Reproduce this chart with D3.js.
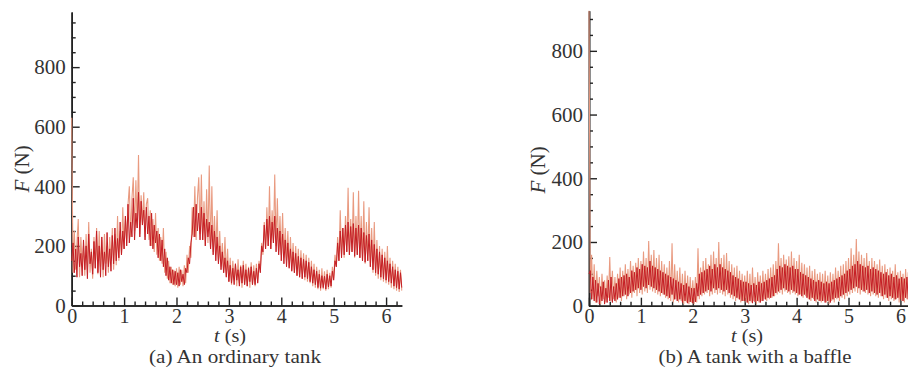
<!DOCTYPE html>
<html>
<head>
<meta charset="utf-8">
<script src="https://cdn.jsdelivr.net/npm/d3@7/dist/d3.min.js"></script>
<style>
  html, body { margin: 0; padding: 0; background: #fff; }
  svg { display: block; }
  text { font-family: "Liberation Serif", "Times New Roman", serif; fill: #333; }
</style>
</head>
<body>
<svg id="chart" width="908" height="367"></svg>
<script>
// ---------------- DATA ----------------
// sample interval of the digitised force signal (s)
const sampleStep = 0.025;

// Panel (a) An ordinary tank — spiky envelope signal (N)
const lightA = [
  630,110,250,120,210,290,95,230,130,200,100,240,120,280,110,190,90,230,125,260,
  105,250,130,220,95,240,140,200,110,230,150,260,120,240,135,300,150,250,170,330,
  190,300,210,340,400,230,360,430,250,420,260,505,240,370,270,380,230,340,360,220,
  320,200,290,180,310,170,260,150,230,140,260,110,180,90,150,75,130,70,120,65,
  125,60,130,70,120,65,135,75,170,110,200,160,330,230,400,220,360,430,240,440,
  220,350,200,390,210,470,190,400,180,300,170,320,150,250,130,210,110,230,100,190,
  80,160,70,150,85,140,65,155,75,135,60,150,70,140,65,130,60,145,70,135,
  65,140,80,150,120,210,170,280,190,330,200,400,190,320,210,440,200,360,180,300,
  170,310,160,260,150,250,130,230,120,210,110,200,100,190,95,185,90,175,85,170,
  80,160,75,150,65,140,60,130,55,120,50,125,55,115,50,120,55,110,60,130,
  90,170,130,230,150,320,170,260,160,300,180,395,170,290,180,380,160,300,170,385,
  160,300,150,350,140,280,150,330,130,260,110,280,100,220,90,200,85,190,80,180,
  75,200,70,160,60,150,55,140,50,130,45,120,50
];
// Panel (a) core signal (N)
const darkA = [
  150,210,110,190,95,230,130,175,100,220,120,200,90,240,140,180,105,215,125,250,
  110,200,95,230,120,180,100,245,130,190,115,235,140,260,150,225,160,280,170,250,
  190,300,200,340,210,280,230,360,220,310,260,380,230,350,270,320,220,330,240,300,
  200,310,190,270,210,250,160,240,150,220,130,190,100,160,85,130,75,120,70,115,
  70,110,65,120,80,105,70,125,110,160,140,210,240,330,230,340,250,310,220,330,
  220,310,200,290,230,280,190,270,170,250,150,230,140,200,120,180,110,160,95,150,
  80,135,75,125,70,140,85,120,65,130,75,135,70,120,65,125,80,130,70,115,
  70,125,75,140,110,200,180,270,190,290,200,300,190,280,210,300,180,260,170,250,
  150,240,140,220,130,210,125,190,115,180,110,175,100,165,95,160,90,155,95,150,
  90,145,80,130,75,120,70,115,60,105,58,100,60,98,55,105,62,100,65,115,
  85,150,130,210,150,250,160,260,170,270,180,280,170,265,180,275,165,260,170,270,
  160,260,150,245,145,235,150,240,130,220,120,205,110,190,105,180,95,170,90,160,
  85,150,80,140,75,130,65,120,60,115,55,110,60
];

// Panel (b) A tank with a baffle — spiky envelope signal (N)
const lightB = [
  950,40,160,20,130,10,110,30,90,5,100,20,80,10,95,25,153,15,110,20,
  90,10,100,25,120,15,110,30,130,20,115,35,140,25,125,40,135,30,150,40,
  140,35,170,45,150,40,203,50,160,45,175,40,150,35,160,30,140,35,130,25,
  120,20,140,15,196,10,130,20,110,10,120,15,100,5,110,10,95,5,90,10,
  80,5,90,10,180,20,120,30,140,35,150,40,130,30,160,35,170,40,150,35,
  200,40,150,35,160,30,165,35,140,25,130,20,120,15,125,20,110,10,100,15,
  95,10,110,5,100,10,120,15,90,5,105,10,95,15,110,20,100,15,115,20,
  120,25,130,30,140,35,196,40,150,35,160,45,145,40,155,35,170,40,150,35,
  140,30,160,35,135,25,130,30,120,20,125,15,110,20,115,10,100,15,105,10,
  100,15,110,10,95,5,105,15,100,10,120,20,110,15,125,25,130,20,140,30,
  150,35,180,40,160,45,209,40,170,35,160,45,150,40,165,35,140,30,150,35,
  140,30,130,25,145,30,125,20,130,25,115,15,120,20,110,15,130,20,105,10,
  110,15,100,10,115,20,105,15,95,10,100,15,90
];
// Panel (b) core signal (N)
const darkB = [
  100,110,20,90,15,80,10,70,5,60,15,75,5,55,10,80,15,90,10,60,
  15,70,20,85,25,90,30,95,35,100,30,90,40,110,45,105,50,120,55,115,
  50,130,60,125,55,120,65,140,60,125,55,120,50,115,45,110,40,105,35,100,
  30,95,25,90,35,85,20,80,15,75,20,70,10,65,15,70,8,60,12,55,
  8,55,12,70,30,100,35,105,40,110,45,115,50,125,45,115,55,130,50,120,
  55,130,50,120,45,115,50,110,40,105,35,95,30,90,25,85,20,80,15,75,
  15,75,10,70,15,65,8,70,12,65,15,75,10,70,15,75,20,80,25,85,
  25,90,30,95,40,115,45,125,50,120,55,130,50,125,45,120,50,125,45,115,
  40,115,35,105,30,100,35,95,25,90,20,85,25,80,15,75,20,80,15,75,
  15,70,10,75,15,70,10,75,20,80,25,85,25,90,30,95,35,100,40,110,
  45,115,50,125,55,130,60,140,55,130,50,125,45,120,50,125,40,115,45,120,
  40,115,35,110,40,105,30,100,35,105,25,95,30,100,25,90,20,95,25,85,
  20,90,15,85,25,90,20,85,15,80,20,85,15
];

// tick labels
const xTickLabels = [0, 1, 2, 3, 4, 5, 6];
const yTickLabels = [0, 200, 400, 600, 800];
const captions = ["(a) An ordinary tank", "(b) A tank with a baffle"];

// ---------------- LAYOUT ----------------
const svg = d3.select("#chart");
const panels = [
  { light: lightA, dark: darkA, caption: captions[0], id: "a",
    xl: 71.7, xr: 401.8, yb: 305.5, yt: 12, xMax: 6.3, yMax: 985,
    yMinorMax: 950, xMinorMax: 6.2,
    yLabelX: 29, yLabelY: 169, tLabelX: 230, capX: 235, capW: 172 },
  { light: lightB, dark: darkB, caption: captions[1], id: "b",
    xl: 589, xr: 916, yb: 305.7, yt: 10.7, xMax: 6.3, yMax: 926,
    yMinorMax: 900, xMinorMax: 6.2,
    yLabelX: 545, yLabelY: 170, tLabelX: 747, capX: 755, capW: 193 }
];

const yTickSize = 21;
const xTickSize = 20;
const tTitleSize = 18;
const captionSize = 19;

panels.forEach(p => {
  const x = d3.scaleLinear().domain([0, p.xMax]).range([p.xl, p.xr]);
  const y = d3.scaleLinear().domain([0, p.yMax]).range([p.yb, p.yt]);
  const g = svg.append("g");

  // minor ticks
  const yMinor = d3.range(0, p.yMinorMax + 1, 50).filter(v => v % 200 !== 0);
  const xMinor = d3.range(0, Math.round(p.xMinorMax * 5) + 1).map(k => k / 5).filter(v => Math.abs(v - Math.round(v)) > 1e-6);

  const yMinorAxis = d3.axisLeft(y).tickValues(yMinor).tickSize(-4).tickSizeOuter(0).tickFormat("");
  const xMinorAxis = d3.axisBottom(x).tickValues(xMinor).tickSize(-4).tickSizeOuter(0).tickFormat("");
  g.append("g").attr("transform", `translate(${p.xl},0)`).call(yMinorAxis);
  g.append("g").attr("transform", `translate(0,${p.yb})`).call(xMinorAxis);

  const yAxis = d3.axisLeft(y).tickValues(yTickLabels).tickSize(-8).tickSizeOuter(0).tickPadding(6).tickFormat(d3.format("d"));
  const xAxis = d3.axisBottom(x).tickValues(xTickLabels).tickSize(-8).tickSizeOuter(0).tickPadding(5).tickFormat(d3.format("d"));
  const gy = g.append("g").attr("transform", `translate(${p.xl},0)`).call(yAxis);
  const gx = g.append("g").attr("transform", `translate(0,${p.yb})`).call(xAxis);

  g.selectAll(".domain").attr("stroke", "#222").attr("stroke-width", 1.6);
  g.selectAll(".tick line").attr("stroke", "#222").attr("stroke-width", 1.4);
  g.selectAll(".tick text").attr("font-family", "Liberation Serif, serif").attr("fill", "#333");
  gy.selectAll(".tick text").attr("font-size", yTickSize);
  gx.selectAll(".tick text").attr("font-size", xTickSize).attr("dy", "0").attr("y", 17);

  // clip to plot area
  const clipId = "clip-" + p.id;
  svg.append("clipPath").attr("id", clipId).append("rect")
    .attr("x", p.xl - 1).attr("y", p.yt).attr("width", p.xr - p.xl + 2).attr("height", p.yb - p.yt);

  const line = d3.line()
    .x((d, i) => x(i * sampleStep))
    .y(d => y(d));

  const plot = g.append("g").attr("clip-path", `url(#${clipId})`);
  plot.append("path").datum(p.light)
    .attr("d", line).attr("fill", "none")
    .attr("stroke", "#e99a80").attr("stroke-width", 1.1);
  plot.append("path").datum(p.dark)
    .attr("d", line).attr("fill", "none")
    .attr("stroke", "#c41e24").attr("stroke-width", 1.0);

  // axis titles
  const yl = g.append("text")
    .attr("transform", `translate(${p.yLabelX},${p.yLabelY}) rotate(-90)`)
    .attr("text-anchor", "middle").attr("font-size", yTickSize);
  yl.append("tspan").attr("font-style", "italic").text("F");
  yl.append("tspan").text(" (N)");

  g.append("text")
    .attr("x", p.tLabelX).attr("y", 342)
    .attr("text-anchor", "middle").attr("font-size", tTitleSize)
    .attr("textLength", 32).attr("lengthAdjust", "spacingAndGlyphs")
    .html('<tspan font-style="italic">t</tspan> (s)');

  g.append("text")
    .attr("x", p.capX).attr("y", 362.8)
    .attr("text-anchor", "middle").attr("font-size", captionSize)
    .attr("textLength", p.capW).attr("lengthAdjust", "spacingAndGlyphs")
    .text(p.caption);
});
</script>
</body>
</html>
